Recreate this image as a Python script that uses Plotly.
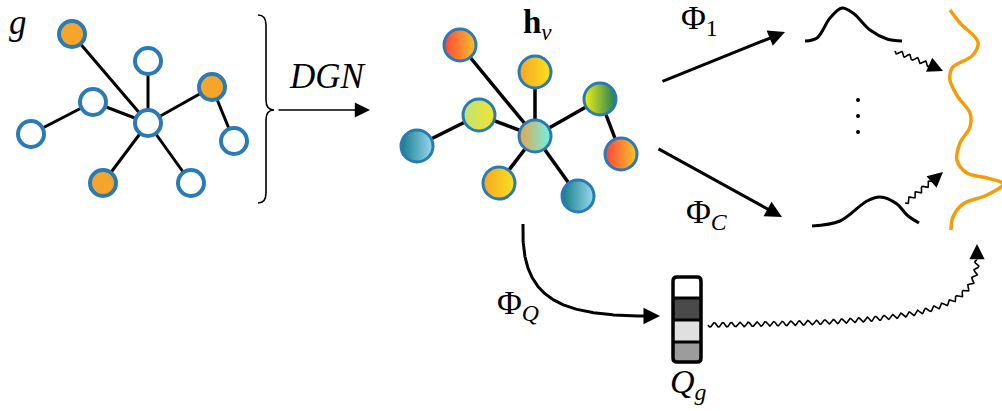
import numpy as np
import plotly.graph_objects as go

W, H = 1002, 411
FONT = "Liberation Serif"
BLUE = "#2a7ab6"
ORANGE = "#f5a62a"
CURVE_ORANGE = "#f49d0c"

# input graph g (same topology for both graphs)
g_x = [72, 148, 212, 93, 148, 31, 234, 103, 191]
g_y = [34, 61, 87, 102, 123, 134, 141, 183, 183]
g_fill = [ORANGE, "white", ORANGE, "white", "white", "white", "white", ORANGE, "white"]
edges = [(0, 4), (1, 4), (2, 4), (2, 6), (3, 4), (5, 3), (7, 4), (8, 4)]

# node embeddings h_v after the DGN
h_x = [460, 535, 600, 479, 535, 417, 621, 499, 578]
h_y = [45, 72, 99, 115, 136, 146, 154, 183, 196]
h_left = ["#ff4538", "#f5a623", "#f0f212", "#bde47a", "#e7a44c", "#157c86", "#ff4238", "#f5a623", "#157c86"]
h_right = ["#f8c22c", "#f8e21e", "#1f7d5c", "#f4e22c", "#6ff2e6", "#9ad9f2", "#f8c62c", "#f8e21e", "#9ad9f2"]

# component densities (Phi_1 ... Phi_C)
bump1_x = [805, 817, 830, 842, 853, 870, 887, 902]
bump1_y = [41, 38, 18, 8, 13, 30, 39, 41]
bumpC_x = [812, 840, 867, 880, 897, 907, 919]
bumpC_y = [226, 221, 201, 197, 204, 215, 223]

# mixture density (sideways)
mix_x = [950, 960, 978, 973, 952, 950, 958, 970, 970, 960, 957, 967, 987, 1003, 987, 963, 953, 951]
mix_y = [10, 23, 42, 55, 68, 80, 97, 113, 127, 143, 160, 173, 178, 184, 195, 204, 217, 230]

# Q_g weights (grey level, 0 = white, 1 = black)
qg_vals = [0.0, 0.71, 0.12, 0.39]
qg_edges = [277, 298, 320, 342, 362]
qg_left, qg_right = 673, 701


def bezier(p0, p1, p2, p3, n=200):
    t = np.linspace(0, 1, n)[:, None]
    pts = ((1 - t) ** 3) * np.array(p0) + 3 * ((1 - t) ** 2) * t * np.array(p1) \
        + 3 * (1 - t) * t ** 2 * np.array(p2) + t ** 3 * np.array(p3)
    return pts


def squiggle(pts, amp=2.2, wl=8.5):
    d = np.diff(pts, axis=0)
    seg = np.hypot(d[:, 0], d[:, 1])
    s = np.concatenate([[0], np.cumsum(seg)])
    tang = np.vstack([d, d[-1:]])
    tang = tang / np.hypot(tang[:, 0], tang[:, 1])[:, None]
    norm = np.column_stack([-tang[:, 1], tang[:, 0]])
    off = amp * np.sin(2 * np.pi * s / wl)
    return pts + norm * off[:, None]


def edge_xy(xs, ys):
    ex, ey = [], []
    for a, b in edges:
        ex += [xs[a], xs[b], None]
        ey += [ys[a], ys[b], None]
    return ex, ey


fig = go.Figure()

ex, ey = edge_xy(g_x, g_y)
fig.add_trace(go.Scatter(x=ex, y=ey, mode="lines", line=dict(color="black", width=3)))
fig.add_trace(go.Scatter(x=g_x, y=g_y, mode="markers",
                         marker=dict(size=26, color=g_fill, line=dict(color=BLUE, width=4))))

ex, ey = edge_xy(h_x, h_y)
fig.add_trace(go.Scatter(x=ex, y=ey, mode="lines", line=dict(color="black", width=3.5)))
fig.add_trace(go.Scatter(x=h_x, y=h_y, mode="markers",
                         marker=dict(size=32, color=h_left, line=dict(color=BLUE, width=3),
                                     gradient=dict(type="horizontal", color=h_right))))

# densities
fig.add_trace(go.Scatter(x=bump1_x, y=bump1_y, mode="lines",
                         line=dict(color="black", width=3, shape="spline", smoothing=1)))
fig.add_trace(go.Scatter(x=bumpC_x, y=bumpC_y, mode="lines",
                         line=dict(color="black", width=3, shape="spline", smoothing=1)))
fig.add_trace(go.Scatter(x=mix_x, y=mix_y, mode="lines",
                         line=dict(color=CURVE_ORANGE, width=3.5, shape="spline", smoothing=1)))
fig.add_trace(go.Scatter(x=[858, 858, 858], y=[100, 116, 132], mode="markers",
                         marker=dict(size=4, color="black")))

# Phi_Q curve
pq = bezier((523, 224), (520, 300), (560, 316), (648, 316))
fig.add_trace(go.Scatter(x=pq[:, 0], y=pq[:, 1], mode="lines", line=dict(color="black", width=3)))

# squiggly arrows
for p in [np.linspace((895, 51), (935, 67), 60),
          np.linspace((905, 203), (936, 178), 60),
          bezier((708, 325), (900, 322), (977, 318), (977, 260), 400)]:
    sq = squiggle(p)
    fig.add_trace(go.Scatter(x=sq[:, 0], y=sq[:, 1], mode="lines", line=dict(color="black", width=1.6)))

# Q_g vector
fig.add_trace(go.Heatmap(z=[[v] for v in qg_vals], x=[qg_left, qg_right], y=qg_edges,
                         colorscale=[[0, "white"], [1, "black"]], zmin=0, zmax=1,
                         showscale=False, hoverinfo="skip"))

shapes = []
for yv in qg_edges[1:-1]:
    shapes.append(dict(type="line", x0=qg_left, x1=qg_right, y0=yv, y1=yv,
                       line=dict(color="black", width=3)))
r = 4
shapes.append(dict(type="path", line=dict(color="black", width=3.5),
                   path=f"M {qg_left + r},{qg_edges[0]} L {qg_right - r},{qg_edges[0]} "
                        f"Q {qg_right},{qg_edges[0]} {qg_right},{qg_edges[0] + r} "
                        f"L {qg_right},{qg_edges[-1] - r} Q {qg_right},{qg_edges[-1]} {qg_right - r},{qg_edges[-1]} "
                        f"L {qg_left + r},{qg_edges[-1]} Q {qg_left},{qg_edges[-1]} {qg_left},{qg_edges[-1] - r} "
                        f"L {qg_left},{qg_edges[0] + r} Q {qg_left},{qg_edges[0]} {qg_left + r},{qg_edges[0]} Z"))
# brace
shapes.append(dict(type="path", line=dict(color="black", width=1.6),
                   path="M 258,15 Q 266,15 266,25 L 266,100 Q 266,110 274,110 "
                        "Q 266,110 266,120 L 266,193 Q 266,203 258,203"))

arrows = [
    # (tail, head, width, size)
    ((277, 110), (370, 110), 1.6, 1.9),
    ((661, 82), (785, 32), 3, 1.1),
    ((657, 148), (782, 217), 3, 1.1),
    ((645, 316), (660, 316), 3, 1.1),
    ((933, 66.5), (943, 71), 1.6, 1.9),
    ((935, 179), (943, 172), 1.6, 1.9),
    ((977, 261), (977, 244), 1.6, 1.9),
]
annotations = []
for (tx, ty), (hx, hy), w, s in arrows:
    annotations.append(dict(x=hx, y=hy, ax=tx, ay=ty, xref="x", yref="y", axref="x", ayref="y",
                            text="", showarrow=True, arrowhead=2, arrowwidth=w, arrowsize=s,
                            arrowcolor="black", standoff=0, startstandoff=0))

labels = [
    ("<i>g</i>", 18, 22, 35),
    ("<i>DGN</i>", 327, 76, 35),
    ("<b>h</b><sub><i>v</i></sub>", 537, 24, 33),
    ("Φ<sub>1</sub>", 699, 20, 34),
    ("Φ<sub><i>C</i></sub>", 707, 214, 34),
    ("Φ<sub><i>Q</i></sub>", 518, 305, 34),
    ("<i>Q</i><sub><i>g</i></sub>", 688, 384, 34),
]
for txt, x, y, sz in labels:
    annotations.append(dict(x=x, y=y, xref="x", yref="y", text=txt, showarrow=False,
                            font=dict(family=FONT, size=sz, color="black")))

fig.update_layout(width=W, height=H, margin=dict(l=0, r=0, t=0, b=0),
                  paper_bgcolor="white", plot_bgcolor="white", showlegend=False,
                  shapes=shapes, annotations=annotations,
                  xaxis=dict(range=[0, W], visible=False, fixedrange=True),
                  yaxis=dict(range=[H, 0], visible=False, fixedrange=True))

fig.write_html("out.html", config={"displayModeBar": False},
               post_script="document.body.style.margin='0px';")
